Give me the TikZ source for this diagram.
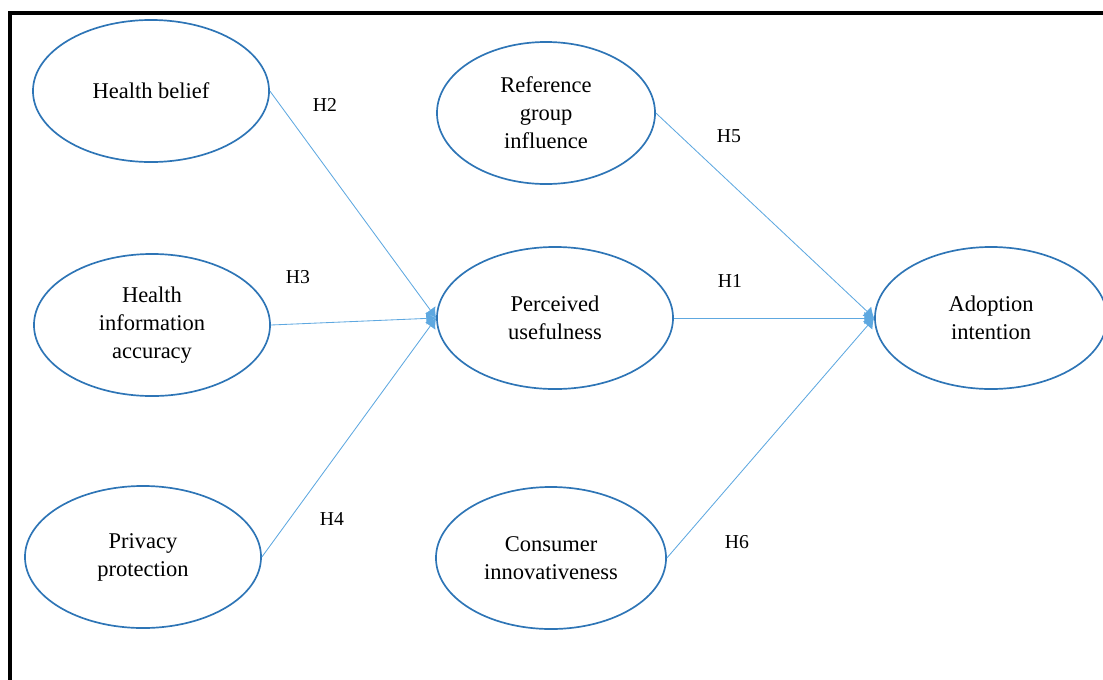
\documentclass[tikz,border=0pt]{standalone}
\usepackage{fontspec}
\setmainfont{Liberation Serif}
\usepackage{xcolor}
\usetikzlibrary{shapes.geometric,arrows.meta}

\definecolor{ovalblue}{HTML}{2E75B6}
\definecolor{lineblue}{HTML}{5EA8E0}

\begin{document}
\begin{tikzpicture}[x=0.025cm,y=-0.025cm,
	construct/.style={ellipse,draw=ovalblue,line width=1.2pt,inner sep=0pt,
		minimum width=5.9cm,minimum height=3.55cm,align=center,
		font=\fontsize{16}{20}\selectfont},
	path/.style={draw=lineblue,line width=0.6pt,-{Latex[length=7pt,width=9pt]}},
	hyp/.style={font=\fontsize{14}{16}\selectfont}]
	\useasboundingbox (0,0) rectangle (1103,679);
	\clip (0,0) rectangle (1103,679);
	%\fill[white] (0,0) rectangle (1103,679);
	\draw[line width=2.4pt] (10,13) rectangle (1140,720);
	
	% constructs
	\node[construct] (belief) at (151,91) {Health belief};
	\node[construct] (accuracy) at (152,325) {Health\\information\\accuracy};
	\node[construct] (privacy) at (143,557) {Privacy\\protection};
	\node[construct,minimum width=5.45cm] (reference) at (546,113) {Reference\\group\\influence};
	\node[construct] (useful) at (555,318) {Perceived\\usefulness};
	\node[construct,minimum width=5.75cm] (innovative) at (551,558) {Consumer\\innovativeness};
	\node[construct,minimum width=5.8cm] (adoption) at (991,318) {Adoption\\intention};
	
	% hypotheses
	\draw[path] (belief.east) -- (useful.west);
	\draw[path] (accuracy.east) -- (useful.west);
	\draw[path] (privacy.east) -- (useful.west);
	\draw[path] (reference.east) -- (adoption.west);
	\draw[path] (useful.east) -- (adoption.west);
	\draw[path] (innovative.east) -- (adoption.west);
	
	\node[hyp] (h2) at (325,105) {H2};
	\node[hyp] (h3) at (298,277) {H3};
	\node[hyp] (h4) at (332,519) {H4};
	\node[hyp] (h5) at (729,136) {H5};
	\node[hyp] (h1) at (730,281) {H1};
	\node[hyp] (h6) at (737,542) {H6};
\end{tikzpicture}
\end{document}
